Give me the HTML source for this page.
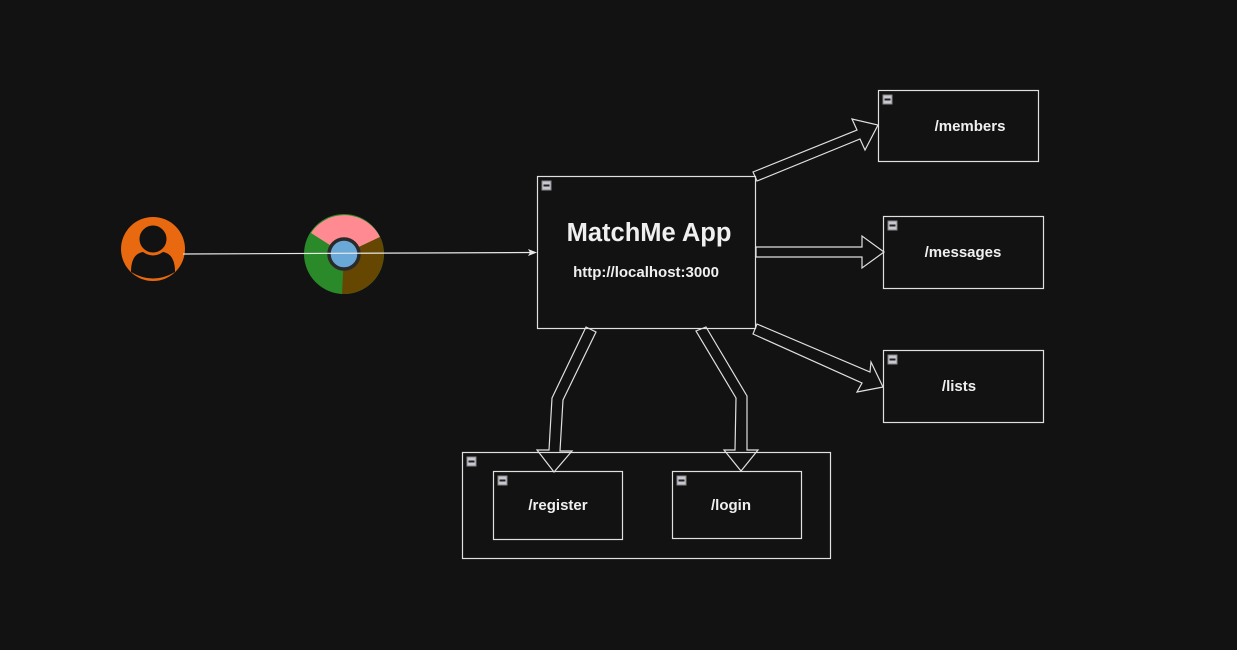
<!DOCTYPE html>
<html><head><meta charset="utf-8"><style>
html,body{margin:0;padding:0;background:#121212;}
svg{display:block;}
text{font-family:"Liberation Sans",sans-serif;font-weight:bold;fill:#f0f0f0;}
</style></head><body>
<svg width="1237" height="650" viewBox="0 0 1237 650" xmlns="http://www.w3.org/2000/svg">
<defs>
<g id="mini"><rect x="0" y="0" width="9" height="9" fill="#c8c8d0" stroke="#888" stroke-width="1"/><rect x="1.5" y="3.5" width="6" height="2" fill="#222"/></g>
</defs>
<rect width="1237" height="650" fill="#121212"/>
<g fill="none" stroke="#e0e0e0" stroke-width="1.2">
<rect x="537.5" y="176.5" width="218" height="152"/>
<rect x="878.5" y="90.5" width="160" height="71"/>
<rect x="883.5" y="216.5" width="160" height="72"/>
<rect x="883.5" y="350.5" width="160" height="72"/>
<rect x="462.5" y="452.5" width="368" height="106"/>
<rect x="493.5" y="471.5" width="129" height="68"/>
<rect x="672.5" y="471.5" width="129" height="67"/>
<polygon points="753,172 857,130 852,119 878,125 865,150 860,139 757,181"/>
<polygon points="756,247 862,247 862,236 884,252 862,268 862,257 756,257"/>
<polygon points="757,324 870,372 871,362 883,387 857,392 862,383 753,334"/>
<polygon points="586,327 596,332 563,400 560,451 572,451 554,472 537,450 549,450 552,398"/>
<polygon points="706,327 747,396 747,450 758,450 741,471 724,450 735,450 736,398 696,331"/>
</g>
<use href="#mini" x="542" y="181"/>
<use href="#mini" x="883" y="95"/>
<use href="#mini" x="888" y="221"/>
<use href="#mini" x="888" y="355"/>
<use href="#mini" x="467" y="457"/>
<use href="#mini" x="498" y="476"/>
<use href="#mini" x="677" y="476"/>
<circle cx="153" cy="249" r="32" fill="#e8690f"/>
<circle cx="153" cy="239" r="14" fill="#121212" stroke="#e8690f" stroke-width="1"/>
<path d="M131,272 Q131,254 143,252 Q153,259 163,252 Q175,254 175,272 Q153,285 131,272 Z" fill="#121212"/>
<g transform="translate(344,254)">
<circle r="40" fill="#2a8a2a"/>
<path d="M0,0 L-33,-21 A40,40 0 0 1 36,-17 Z" fill="#ff8a92"/>
<path d="M0,0 L36,-17 A40,40 0 0 1 -2,40 Z" fill="#654702"/>
<circle r="15" fill="#6aa8d8" stroke="#2a2a2a" stroke-width="3.5"/>
</g>
<line x1="183" y1="254" x2="531" y2="252.5" stroke="#e8e8e8" stroke-width="1.2"/>
<polygon points="537,252.5 528,249 530,252.5 528,256" fill="#e8e8e8"/>
<text x="649" y="241" font-size="25.5" text-anchor="middle">MatchMe App</text>
<text x="646" y="277" font-size="15" text-anchor="middle">http://localhost:3000</text>
<text x="970" y="131" font-size="15" text-anchor="middle">/members</text>
<text x="963" y="257" font-size="15" text-anchor="middle">/messages</text>
<text x="959" y="391" font-size="15" text-anchor="middle">/lists</text>
<text x="558" y="510" font-size="15" text-anchor="middle">/register</text>
<text x="731" y="510" font-size="15" text-anchor="middle">/login</text>
</svg>
</body></html>
